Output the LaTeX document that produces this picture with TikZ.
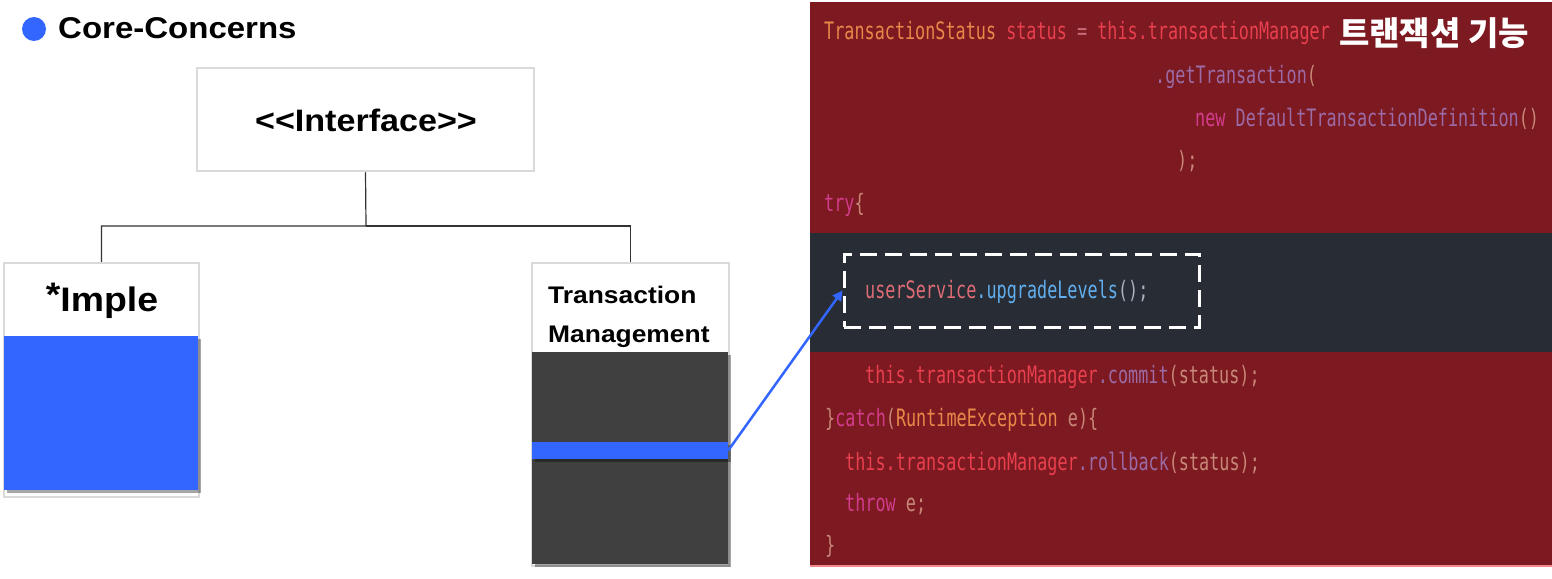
\documentclass[tikz,border=0pt]{standalone}
\usepackage{fontspec}
\setmainfont{Liberation Sans}[FakeStretch=1.1]
\newfontfamily\codefont{DejaVu Sans Mono}[FakeStretch=0.7]
\newfontfamily\krfont{Noto Sans CJK KR}
\usetikzlibrary{arrows.meta, positioning, shadows}
\definecolor{ccBlue}{HTML}{3366FF}
\definecolor{boxGray}{HTML}{D9D9D9}
\definecolor{tmDark}{HTML}{404040}
\definecolor{panelRed}{HTML}{7D1920}
\definecolor{bandDark}{HTML}{282C34}
\definecolor{edgePink}{HTML}{F08A8A}
\definecolor{cType}{HTML}{E8874A}
\definecolor{cVar}{HTML}{E8404E}
\definecolor{cFn}{HTML}{9C6BA6}
\definecolor{cKey}{HTML}{D23C8C}
\definecolor{cPunc}{HTML}{C88878}
\definecolor{cOp}{HTML}{C86A7A}
\definecolor{dVar}{HTML}{E06C75}
\definecolor{dFn}{HTML}{61AFEF}
\definecolor{dPunc}{HTML}{ABB2BF}
\newcommand{\ty}[1]{\textcolor{cType}{#1}}
\newcommand{\vr}[1]{\textcolor{cVar}{#1}}
\newcommand{\fn}[1]{\textcolor{cFn}{#1}}
\newcommand{\kw}[1]{\textcolor{cKey}{#1}}
\newcommand{\pu}[1]{\textcolor{cPunc}{#1}}

\begin{document}
\begin{tikzpicture}[x=1pt, y=-1pt,
  ubox/.style={draw=boxGray, line width=2.5pt, fill=white, inner sep=0pt},
  hd/.style={font=\bfseries\fontsize{#1}{#1}\selectfont, inner sep=0pt},
  code/.style={anchor=base west, inner sep=0pt, font=\codefont\fontsize{24}{24}\selectfont},
  link/.style={draw=black!80, line width=1.2pt},
  shade/.style={drop shadow={shadow xshift=3pt, shadow yshift=-3pt, opacity=.35, fill=black}},
]
  \useasboundingbox (0,0) rectangle (1552,578);
  \fill[panelRed] (810,2) rectangle (1552,566);
  \fill[bandDark] (810,233) rectangle (1552,352);
  \draw[edgePink, line width=2pt] (810,566) -- (1552,566);

  \fill[ccBlue] (34,29) circle (12);
  \node[hd=30, anchor=base west] (cc) at (58,39) {Core-Concerns};

  \node[ubox, minimum width=337pt, minimum height=103pt] (iface) at (365.5,119.5) {};
  \node[hd=31, anchor=base] (ifaceTxt) at (366,131) {<{}<Interface>{}>};

  \node[ubox, minimum width=195pt, minimum height=234pt] (imple) at (101.5,380) {};
  \fill[ccBlue, shade] (4,336) rectangle (198,490);
  \node[hd=34, anchor=base] (impleTxt) at (102,311) {\raisebox{5pt}{*}Imple};

  \node[ubox, minimum width=197pt, minimum height=303pt] (txmgr) at (630.5,414.5) {};
  \fill[tmDark, shade] (532,352) rectangle (728,564);
  \node[fill=ccBlue, shade, minimum width=196pt, minimum height=17pt, inner sep=0pt] (bar) at (630,450.5) {};
  \node[hd=24, anchor=base west] (tmTop) at (548,303) {Transaction};
  \node[hd=24, anchor=base west] (tmBot) at (548,342) {Management};

  \coordinate (split) at (366,226);
  \draw[link] (iface.south) -- (split) -| (imple.north);
  \draw[link] (split) -| (txmgr.north);

  \node[code] (ln1) at (824,40) {\ty{TransactionStatus} \vr{status} \textcolor{cOp}{=} \vr{this.transactionManager}};
  \node[code] (ln2) at (1155,84) {\fn{.getTransaction}\pu{(}};
  \node[code] (ln3) at (1195,126) {\kw{new} \fn{DefaultTransactionDefinition}\pu{()}};
  \node[code] (ln4) at (1177,168) {\pu{);}};
  \node[code] (ln5) at (824,211) {\kw{try}\pu{\{}};
  \node[code] (ln6) at (865,298) {\textcolor{dVar}{userService}\textcolor{dFn}{.upgradeLevels}\textcolor{dPunc}{();}};
  \node[code] (ln7) at (865,383) {\vr{this.transactionManager}\fn{.commit}\pu{(status);}};
  \node[code] (ln8) at (825,426) {\pu{\}}\kw{catch}\pu{(}\ty{RuntimeException} \pu{e)\{}};
  \node[code] (ln9) at (845,470) {\vr{this.transactionManager}\fn{.rollback}\pu{(status);}};
  \node[code] (ln10) at (845,511) {\kw{throw} \pu{e;}};
  \node[code] (ln11) at (825,553) {\pu{\}}};

  \node[fill=panelRed, inner sep=1pt, anchor=east, text=white,
        font=\krfont\bfseries\fontsize{33}{33}\selectfont] (krTitle) at (1530,33) {트랜잭션 기능};

  \node[draw=white, line width=3pt, dash pattern=on 17pt off 8pt, minimum width=355pt,
        minimum height=73pt, inner sep=0pt] (focus) at (1021.5,290.5) {};
  \draw[ccBlue, line width=2.5pt, -{Triangle[length=10pt,width=10pt]}] (bar.east) -- (focus.west);
\end{tikzpicture}
\end{document}
